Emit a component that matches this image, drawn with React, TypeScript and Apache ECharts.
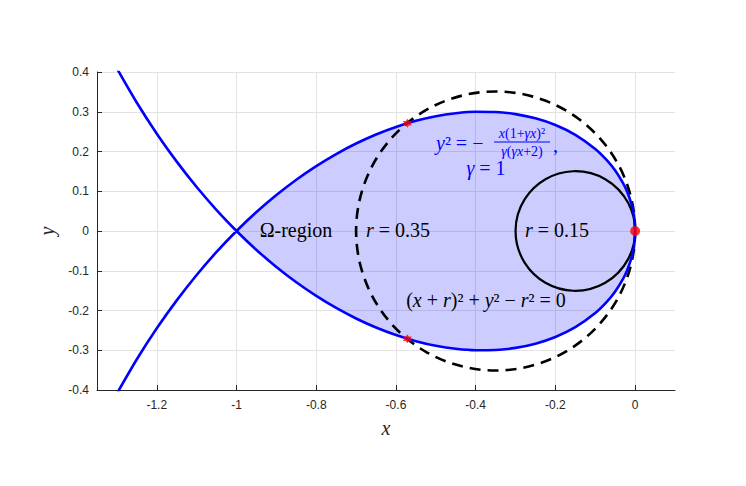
import React, { useEffect, useRef } from "react";
import * as echarts from "echarts";

// x positions along the boundary curve (gamma = 1)
const curveX = [
  -1.3, -1.25, -1.2, -1.15, -1.1, -1.05, -1, -0.95, -0.9, -0.85, -0.8, -0.75, -0.7,
  -0.65, -0.6, -0.55, -0.5, -0.45, -0.4, -0.35, -0.3, -0.25, -0.2, -0.15, -0.1,
  -0.07, -0.05, -0.03, -0.02, -0.01, -0.005, -0.002, 0,
];
// signed branch value (upper loop positive)
const curveY = [
  -0.409, -0.3227, -0.2449, -0.1745, -0.1106, -0.0526, 0, 0.0476, 0.0905, 0.129,
  0.1633, 0.1936, 0.2201, 0.2429, 0.2619, 0.2771, 0.2887, 0.2963, 0.3, 0.2994,
  0.2941, 0.2835, 0.2667, 0.242, 0.2065, 0.1771, 0.1521, 0.1197, 0.0985, 0.0702,
  0.0498, 0.0316, 0,
];

// circles: [centerX, centerY, radius]
const dashedCircle = [-0.35, 0, 0.35];
const solidCircle = [-0.15, 0, 0.15];

// marker points
const starX = [-0.5714, -0.5714];
const starY = [0.2711, -0.2711];
const originPoint = [0, 0];

const xTicks = [-1.2, -1, -0.8, -0.6, -0.4, -0.2, 0];

const SERIF = '"Liberation Serif", "DejaVu Serif", serif';
const SANS = '"Liberation Sans", Arial, Helvetica, sans-serif';

const HEX =
  "path://M0,-10 L2.9,-5 L8.66,-5 L5.77,0 L8.66,5 L2.9,5 L0,10 L-2.9,5 L-8.66,5 L-5.77,0 L-8.66,-5 L-2.9,-5 Z";

export default function App() {
  const ref = useRef<HTMLDivElement>(null);

  useEffect(() => {
    if (!ref.current) return;
    const chart = echarts.init(ref.current, undefined, { renderer: "svg" });

    // full curve path: branch (x, -y) ascending, then (x, y) descending
    const curvePath: number[][] = [];
    for (let i = 0; i < curveX.length; i++) curvePath.push([curveX[i], -curveY[i]]);
    for (let i = curveX.length - 2; i >= 0; i--) curvePath.push([curveX[i], curveY[i]]);

    // closed Omega-region loop (x >= -1)
    const loop: number[][] = [];
    for (let i = 0; i < curveX.length; i++) if (curveX[i] >= -1) loop.push([curveX[i], curveY[i]]);
    for (let i = curveX.length - 1; i >= 0; i--) if (curveX[i] >= -1) loop.push([curveX[i], -curveY[i]]);

    const FS = 20;
    const rich = (fill: string, size: number) => ({
      i: { fontStyle: "italic", fontFamily: SERIF, fontSize: size, fill },
    });
    const label = (x: number, y: number, text: string, fill = "#000", size = FS, align = "center") => ({
      type: "text",
      x,
      y,
      z: 10,
      style: {
        text,
        fontFamily: SERIF,
        fontSize: size,
        fill,
        align,
        verticalAlign: "middle",
        rich: rich(fill, size),
      },
    });

    chart.setOption({
      animation: false,
      grid: { left: 97, right: 71, top: 72, bottom: 96 },
      xAxis: {
        type: "value",
        min: -1.35,
        max: 0.1,
        name: "x",
        nameLocation: "middle",
        nameGap: 28,
        nameTextStyle: { fontFamily: SERIF, fontStyle: "italic", fontSize: 20, color: "#262626" },
        axisLine: { onZero: false, lineStyle: { color: "#262626", width: 1 } },
        axisTick: { inside: true, length: 5, customValues: xTicks, lineStyle: { color: "#262626" } },
        axisLabel: { customValues: xTicks, fontFamily: SANS, fontSize: 12, color: "#262626", margin: 9 },
        splitLine: { show: true, lineStyle: { color: "#e3e3e3", width: 1 } },
      },
      yAxis: {
        type: "value",
        min: -0.4,
        max: 0.4,
        interval: 0.1,
        name: "y",
        nameLocation: "middle",
        nameGap: 36,
        nameTextStyle: { fontFamily: SERIF, fontStyle: "italic", fontSize: 20, color: "#262626" },
        axisLine: { onZero: false, lineStyle: { color: "#262626", width: 1 } },
        axisTick: { inside: true, length: 5, lineStyle: { color: "#262626" } },
        axisLabel: { fontFamily: SANS, fontSize: 12, color: "#262626", margin: 8 },
        splitLine: { show: true, lineStyle: { color: "#e3e3e3", width: 1 } },
      },
      series: [
        {
          type: "custom",
          name: "fill",
          data: [[0]],
          silent: true,
          z: 1,
          renderItem: (_params: any, api: any) => ({
            type: "polygon",
            shape: { points: loop.map((p) => api.coord(p)), smooth: 0.3 },
            style: { fill: "rgba(0,0,255,0.2)", stroke: "none" },
          }),
        },
        {
          type: "custom",
          name: "circles",
          data: [
            [...dashedCircle, 1],
            [...solidCircle, 0],
          ],
          silent: true,
          z: 3,
          renderItem: (_params: any, api: any) => {
            const c = api.coord([api.value(0), api.value(1)]);
            const r = api.size([api.value(2), 0])[0];
            const dashed = api.value(3) === 1;
            return {
              type: "circle",
              shape: { cx: c[0], cy: c[1], r },
              style: {
                fill: "none",
                stroke: "#000",
                lineWidth: dashed ? 2.6 : 2.2,
                lineDash: dashed ? [11, 7] : null,
              },
            };
          },
        },
        {
          type: "line",
          name: "curve",
          data: curvePath,
          showSymbol: false,
          smooth: 0.3,
          z: 4,
          lineStyle: { color: "#0000ff", width: 2.6 },
        },
        {
          type: "scatter",
          name: "intersections",
          data: starX.map((x, i) => [x, starY[i]]),
          symbol: HEX,
          symbolSize: 9,
          z: 5,
          itemStyle: { color: "#ff0000" },
        },
        {
          type: "scatter",
          name: "origin",
          data: [originPoint],
          symbol: "circle",
          symbolSize: 10,
          z: 5,
          itemStyle: { color: "#ff0000" },
        },
      ],
      graphic: [
        label(296, 230, "Ω-region"),
        label(398, 230, "{i|r} = 0.35"),
        label(557, 230, "{i|r} = 0.15"),
        label(486, 300, "({i|x} + {i|r})² + {i|y}² − {i|r}² = 0"),
        label(436, 143, "{i|y}² = −", "#0000ff", FS, "left"),
        label(522, 133, "{i|x}(1+{i|γx})²", "#0000ff", 14),
        {
          type: "line",
          z: 10,
          shape: { x1: 494, y1: 142, x2: 550, y2: 142 },
          style: { stroke: "#0000ff", lineWidth: 1 },
        },
        label(522, 151, "{i|γ}({i|γx}+2)", "#0000ff", 14),
        label(553, 145, ",", "#0000ff", FS, "left"),
        label(486, 168, "{i|γ} = 1", "#0000ff"),
      ],
    });

    return () => chart.dispose();
  }, []);

  return (
    <div
      ref={ref}
      style={{ position: "fixed", left: 0, top: 0, width: 746, height: 486, background: "#fff" }}
    />
  );
}
